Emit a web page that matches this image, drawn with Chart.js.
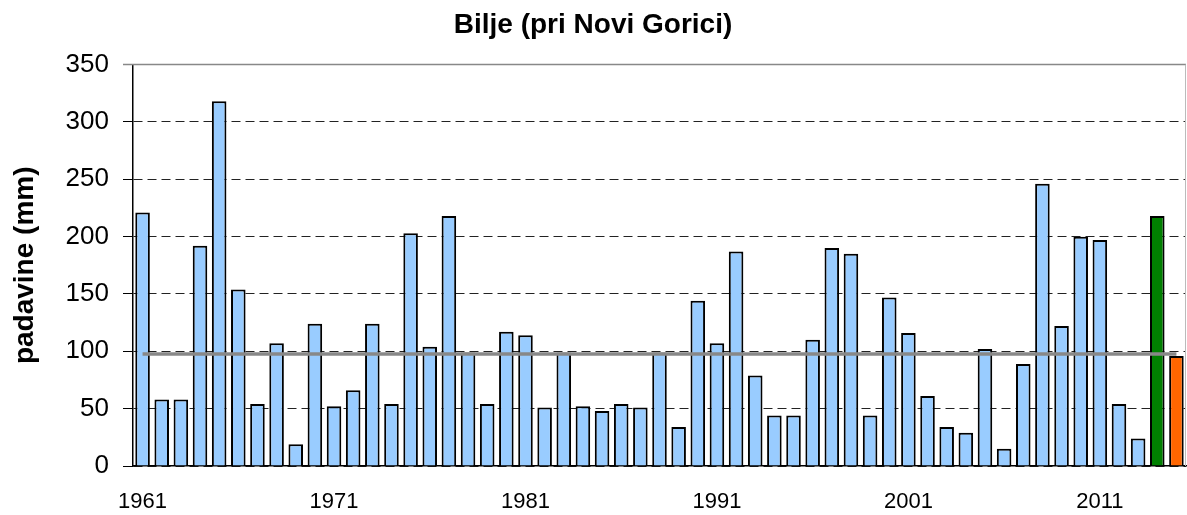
<!DOCTYPE html>
<html>
<head>
<meta charset="utf-8">
<script src="https://cdn.jsdelivr.net/npm/chart.js@4/dist/chart.umd.min.js"></script>
<style>
  html, body { margin: 0; padding: 0; background: #fff; }
  #wrap { width: 1187px; height: 515px; }
</style>
</head>
<body>
<div id="wrap"><canvas id="precipChart"></canvas></div>
<script>
const years = [
  1961, 1962, 1963, 1964, 1965, 1966, 1967, 1968, 1969, 1970,
  1971, 1972, 1973, 1974, 1975, 1976, 1977, 1978, 1979, 1980,
  1981, 1982, 1983, 1984, 1985, 1986, 1987, 1988, 1989, 1990,
  1991, 1992, 1993, 1994, 1995, 1996, 1997, 1998, 1999, 2000,
  2001, 2002, 2003, 2004, 2005, 2006, 2007, 2008, 2009, 2010,
  2011, 2012, 2013, 2014, 2015,
];
const precipitation = [
  221, 58, 58, 192, 318, 154, 54, 107, 19, 124,
  52, 66, 124, 54, 203, 104, 218, 99, 54, 117,
  114, 51, 99, 52, 48, 54, 51, 99, 34, 144,
  107, 187, 79, 44, 44, 110, 190, 185, 44, 147,
  116, 61, 34, 29, 102, 15, 89, 246, 122, 200,
  197, 54, 24, 218, 96,
];
const average = 97.6;
const yTicks = [0, 50, 100, 150, 200, 250, 300, 350];

const highlightYears = { 2014: "#008000", 2015: "#ff6600" };
const barColors = years.map((y) => highlightYears[y] || "#99ccff");

const FONT = "'Liberation Sans', Arial, Helvetica, sans-serif";

// plot frame: grey top line and light right edge
const framePlugin = {
  id: "frame",
  afterDraw(chart) {
    const { ctx, chartArea: a } = chart;
    ctx.save();
    ctx.strokeStyle = "#888";
    ctx.lineWidth = 1.5;
    ctx.beginPath();
    ctx.moveTo(a.left - 10, a.top);
    ctx.lineTo(a.right, a.top);
    ctx.stroke();
    ctx.strokeStyle = "#bbb";
    ctx.lineWidth = 1;
    ctx.beginPath();
    ctx.moveTo(a.right - 0.5, a.top);
    ctx.lineTo(a.right - 0.5, a.bottom);
    ctx.stroke();
    ctx.restore();
  },
};

const ctx = document.getElementById("precipChart").getContext("2d");
const precipChart = new Chart(ctx, {
  data: {
    labels: years,
    datasets: [
      {
        type: "line",
        data: years.map(() => average),
        borderColor: "#888888",
        borderWidth: 3.5,
        pointRadius: 0,
        fill: false,
        order: 0,
      },
      {
        type: "bar",
        data: precipitation,
        backgroundColor: barColors,
        borderColor: "#000",
        borderWidth: 2,
        categoryPercentage: 1,
        barPercentage: 0.76,
        order: 1,
      },
    ],
  },
  options: {
    responsive: true,
    maintainAspectRatio: false,
    animation: false,
    layout: { padding: { left: 0, right: 1, top: 0, bottom: 0 } },
    plugins: {
      legend: { display: false },
      tooltip: { enabled: false },
      title: {
        display: true,
        text: "Bilje (pri Novi Gorici)",
        color: "#000",
        font: { family: FONT, size: 28, weight: "bold" },
        padding: { top: 8, bottom: 23 },
      },
    },
    scales: {
      x: {
        grid: { display: false, drawTicks: false },
        border: { display: true, color: "#000", width: 1.5 },
        ticks: {
          autoSkip: false,
          maxRotation: 0,
          minRotation: 0,
          padding: 23,
          color: "#000",
          font: { family: FONT, size: 22 },
          callback: function (value, index) {
            const y = years[index];
            return (y - 1961) % 10 === 0 ? String(y) : "";
          },
        },
        afterFit: (scale) => {
          scale.height = 49;
          scale.paddingLeft = 0;
          scale.paddingRight = 0;
        },
      },
      y: {
        min: 0,
        max: 350,
        afterBuildTicks: (scale) => {
          scale.ticks = yTicks.map((v) => ({ value: v }));
        },
        grid: {
          color: "#222",
          lineWidth: 1,
          drawTicks: true,
          tickLength: 10,
          tickColor: "#000",
          tickBorderDash: [],
        },
        border: { display: true, color: "#000", width: 1.5, dash: [9, 5] },
        ticks: {
          padding: 14,
          color: "#000",
          font: { family: FONT, size: 26 },
        },
        title: {
          display: true,
          text: "padavine (mm)",
          color: "#000",
          font: { family: FONT, size: 28, weight: "bold" },
          padding: { top: 8, bottom: 0 },
        },
        afterFit: (scale) => {
          scale.width = 133;
        },
      },
    },
  },
  plugins: [framePlugin],
});
</script>
</body>
</html>
